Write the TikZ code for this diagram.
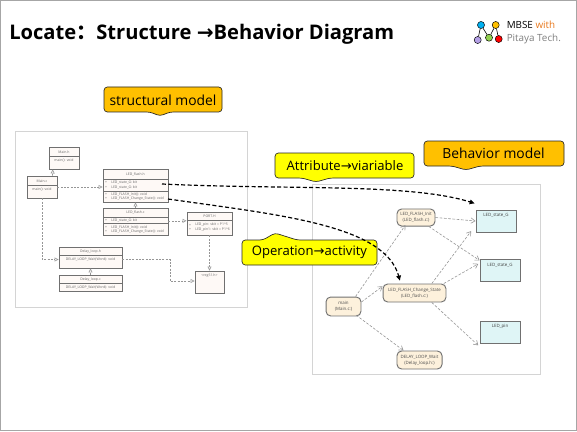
\documentclass[tikz,border=0pt]{standalone}
\usepackage{fontspec}
\usepackage{xcolor}
\usepackage{tikz}
\usetikzlibrary{arrows.meta,fit,positioning}
\setmainfont{Open Sans}
\newfontfamily\arrowfont{DejaVu Sans}
\newfontfamily\cjkfont{Noto Sans CJK SC}
\definecolor{slideEdge}{HTML}{A6A6A6}
\definecolor{frameLine}{HTML}{D4D4D4}
\definecolor{umlLine}{HTML}{707070}
\definecolor{umlFill}{HTML}{FEF9F6}
\definecolor{linkGray}{HTML}{969696}
\definecolor{activityFill}{HTML}{FDF1DC}
\definecolor{stateFill}{HTML}{DFF5F6}
\definecolor{tagOrange}{HTML}{FFC000}
\definecolor{tagYellow}{HTML}{FFFF00}
\definecolor{logoOrange}{HTML}{E8791E}
\definecolor{logoGray}{HTML}{7F7F7F}
\definecolor{dotBlueFill}{HTML}{00B0F0}
\definecolor{dotGreenFill}{HTML}{92D050}
\definecolor{dotPurpleFill}{HTML}{B4A0E6}
\newcommand{\tinytext}{\fontsize{2.6}{4}\selectfont}
\newcommand{\nodetext}{\fontsize{3.3}{4.4}\selectfont}
\newcommand{\arw}{{\arrowfont\symbol{"2192}}}
\tikzset{
  uml box/.style={draw=umlLine, fill=umlFill, line width=0.7pt, inner sep=0pt},
  uml rule/.style={draw=umlLine, line width=0.5pt},
  uml text/.style={font=\tinytext, text=black!60, inner sep=0pt},
  activity box/.style={draw=umlLine, fill=activityFill, line width=0.7pt,
    rounded corners=3.5pt, inner sep=0pt, align=center, font=\nodetext, text=black!70},
  state box/.style={draw=umlLine, fill=stateFill, line width=0.7pt, inner sep=0pt},
  left link/.style={-{Triangle[open,length=3pt,width=3pt]}, draw=linkGray, line width=0.45pt, dashed,
    dash pattern=on 1.5pt off 1pt},
  right link/.style={-{Straight Barb[length=3pt,width=4pt]}, draw=linkGray, line width=0.45pt, dashed,
    dash pattern=on 2pt off 1.2pt},
  trace link/.style={-{Latex[length=4pt,width=4pt]}, draw=black, line width=0.9pt,
    dash pattern=on 3pt off 1.8pt},
  tag shape/.style={draw=black!85, line width=0.5pt, rounded corners=2.5pt, line join=round},
  tag text/.style={font=\fontsize{10.4}{12}\selectfont, text=black, inner sep=0pt},
  arrow tag text/.style={font=\fontsize{9.8}{12}\selectfont, text=black, inner sep=0pt},
  logo dot/.style={circle, draw=black, line width=0.35pt, inner sep=0pt, minimum size=5.3pt}
}
\begin{document}
\begin{tikzpicture}[x=0.75pt,y=-0.75pt]
\useasboundingbox (0,0) rectangle (577,431);
\draw[draw=slideEdge, line width=0.8pt] (0.5,0.5) rectangle (576.5,430.5);
% title and logo
\node[font=\fontsize{15.1}{18}\selectfont\bfseries, anchor=west, inner sep=0pt] (title) at (9,34)
  {Locate{\cjkfont：}Structure \arw Behavior Diagram};
\node[logo dot, fill=dotBlueFill] (dotBlue) at (481,25) {};
\node[logo dot, fill=tagOrange] (dotYellow) at (495.7,25) {};
\node[logo dot, fill=dotPurpleFill] (dotPurple) at (477.7,40) {};
\node[logo dot, fill=dotGreenFill] (dotGreen) at (489,37.7) {};
\node[logo dot, fill=red] (dotRed) at (498.7,39) {};
\draw[line width=0.45pt] (dotBlue) -- (dotPurple) (dotBlue) -- (dotGreen)
  (dotYellow) -- (dotGreen) (dotYellow) -- (dotRed);
\node[anchor=west, inner sep=0pt, font=\fontsize{7.4}{9}\selectfont] (logoTop) at (506.5,25)
  {MBSE \textcolor{logoOrange}{with}};
\node[anchor=west, inner sep=0pt, font=\fontsize{7.4}{9}\selectfont, text=logoGray] (logoBottom) at (506.5,38.5)
  {Pitaya Tech.};
% model frames
\node[draw=frameLine, line width=0.7pt, inner sep=0pt, fit={(15,131) (247,307)}] (structFrame) {};
\node[draw=frameLine, line width=0.7pt, inner sep=0pt, fit={(312,184) (540,374)}] (behavFrame) {};
% structural model
\node[uml box, fit={(49,147) (79,169)}] (mainH) {};
\node[uml box, fit={(27,176) (57,198)}] (mainC) {};
\node[uml box, fit={(103,169) (168,202)}] (ledH) {};
\node[uml box, fit={(103,208) (168,235)}] (ledC) {};
\node[uml box, fit={(187,212) (232,235)}] (portH) {};
\node[uml box, fit={(195,271) (224,293)}] (regH) {};
\node[uml box, fit={(59,247) (122,268)}] (delayH) {};
\node[uml box, fit={(59,275) (122,291)}] (delayC) {};
\foreach \x/\xb/\y in {49/79/156,27/57/185,103/168/179,103/168/191,103/168/217,103/168/223,187/232/220,59/122/255,59/122/283}{
  \draw[uml rule] (\x,\y) -- (\xb,\y);
}
\foreach \x/\y/\text in {64/152/Main.h,42/181/Main.c,135.5/174.5/LED\_flash.h,135.5/212.5/LED\_flash.c,209.5/216.5/PORT.H,
  209.5/276/<reg51.h>,90.5/251.5/Delay\_loop.h,90.5/279.5/Delay\_loop.c,64/160/main(): void,42/189.5/main(): void}{
  \node[uml text] at (\x,\y) {\text};
}
\foreach \y/\text in {182.5/LED\_state\_G: bit,187/LED\_state\_G: bit,194/LED\_FLASH\_Init(): void,198.5/LED\_FLASH\_Change\_State(): void,
  220.5/LED\_state\_G: bit,227/LED\_FLASH\_Init(): void,231.5/LED\_FLASH\_Change\_State(): void}{
  \node[uml text, anchor=west] at (111,\y) {\text};
  \node[uml text] at (106,\y) {+};
}
\foreach \y/\text in {225/LED\_pin: sbit = P1\^{}5,229.5/LED\_pin1: sbit = P1\^{}6}{
  \node[uml text, anchor=west] at (195,\y) {\text};
  \node[uml text] at (190,\y) {+};
}
\node[uml text] at (90.5,259) {DELAY\_LOOP\_Wait(Word): void};
\node[uml text] at (90.5,287) {DELAY\_LOOP\_Wait(Word): void};
\draw[left link] (mainC.north east) ++(-5,0) -- ([xshift=-20]mainH.south east);
\draw[left link] (mainC.east) -- (mainC.east -| ledH.west);
\draw[left link] (mainC.south) |- ([yshift=-1.5]delayH.west);
\draw[left link] (delayC.north) -- (delayH.south);
\draw[left link] (ledC.north) -- (ledH.south);
\draw[left link] ([yshift=0.5]ledC.east) -- ([yshift=0.5]ledC.east -| portH.west);
\draw[left link] (portH.south) -- (regH.north);
\draw[left link] ([yshift=-1.5]delayH.east) -| (170,281) -- (170,281 -| regH.west);
% behavior model
\node[activity box, minimum width=28.5pt, minimum height=12.8pt] (flashInit) at (416,217.5) {LED\_FLASH\_Init\\(LED\_flash.c:)};
\node[activity box, minimum width=47.2pt, minimum height=13.5pt] (flashChange) at (414.5,293) {LED\_FLASH\_Change\_State\\(LED\_flash.c:)};
\node[activity box, minimum width=26.2pt, minimum height=14.2pt] (mainAct) at (343.5,306.5) {main\\(Main.c:)};
\node[activity box, minimum width=33.8pt, minimum height=13.5pt] (delayWait) at (419.5,360) {DELAY\_LOOP\_Wait\\(Delay\_loop.h:)};
\foreach \name/\x/\y/\text in {stateOne/496/221/LED\_state\_G,stateTwo/500/270.5/LED\_state\_G,pinState/500/332/LED\_pin}{
  \node[state box, minimum width=30pt, minimum height=16.5pt] (\name) at (\x,\y) {};
  \node[uml text, font=\nodetext, text=black!75] (\name Text) at ([yshift=4]\name.center) {\text};
}
\draw[right link] (flashInit.east) -- (stateOne.west);
\draw[right link] ([xshift=-5]flashInit.south east) -- ([xshift=0,yshift=-1]stateTwo.north west);
\draw[right link] ([xshift=9]mainAct.north) -- ([xshift=-8,yshift=1]flashInit.south);
\draw[right link] (mainAct.east) ++(0,-4.5) -- ([yshift=5]flashChange.west);
\draw[right link] ([xshift=-4,yshift=1]mainAct.south east) -- ([xshift=-12]delayWait.north);
\draw[right link] ([xshift=13]flashChange.north) -- ([xshift=-34,yshift=1]stateOne.south east);
\draw[right link] ([xshift=-2]flashChange.north east) -- ([xshift=-1,yshift=5]stateTwo.west);
\draw[right link] ([xshift=-11]flashChange.south east) -- ([xshift=-1,yshift=-10]pinState.west);
% tags
\draw[tag shape, fill=tagOrange] (104,87) -- (222,87) -- (222,112) -- (170,112) -- (160,116) -- (150,112) -- (104,112) -- cycle;
\node[tag text] (structTag) at (163,100) {structural model};
\draw[tag shape, fill=tagOrange] (424,141) -- (564,141) -- (564,166) -- (480,166) -- (466,170) -- (452,166) -- (424,166) -- cycle;
\node[tag text] (behavTag) at (493.5,153.5) {Behavior model};
\draw[tag shape, fill=tagYellow] (275,153) -- (414,153) -- (414,178) -- (330,178) -- (316,182) -- (302,178) -- (275,178) -- cycle;
\node[arrow tag text] (attrTag) at (345,165.5) {Attribute\arw viariable};
\draw[tag shape, fill=tagYellow] (242,240) -- (263,240) -- (275,233) -- (297,240) -- (377,240) -- (377,265) -- (242,265) -- cycle;
\node[arrow tag text] (operTag) at (309.5,252.5) {Operation\arw activity};
% trace links
\coordinate (attrStart) at (162,184);
\coordinate (attrEnd) at (475,203.5);
\coordinate (operStart) at (168,199);
\coordinate (operEnd) at (400,281);
\draw[trace link] (attrStart) .. controls (290,190) and (410,183) .. (attrEnd);
\draw[trace link] (operStart) .. controls (280,215) and (385,225) .. (operEnd);
\end{tikzpicture}
\end{document}
